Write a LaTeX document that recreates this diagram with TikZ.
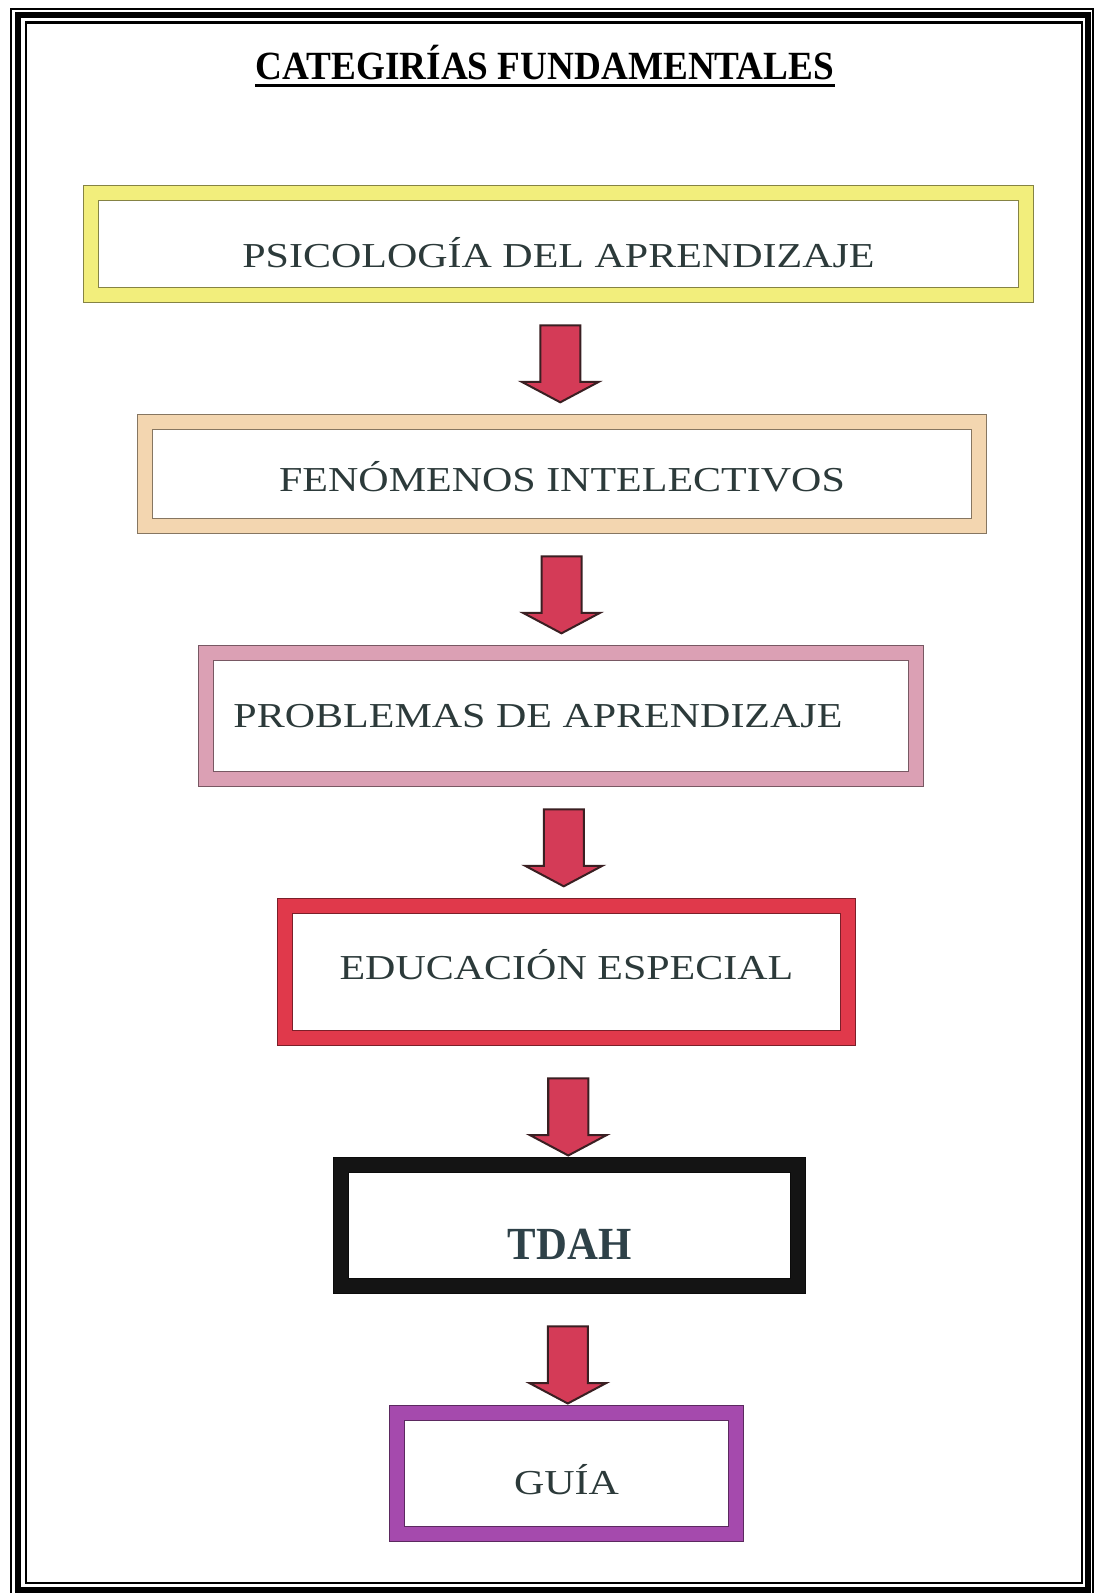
\documentclass[tikz,border=0pt]{standalone}
\usepackage{fontspec}
\usepackage{xcolor}
\usepackage{tikz}
\usetikzlibrary{shapes.arrows, positioning, calc}
\setmainfont{Liberation Serif}
\newfontfamily\cajafont[FakeStretch=1.2]{Liberation Serif}
\newfontfamily\titulofont[FakeStretch=0.93]{Liberation Serif}
\definecolor{amarillo}{HTML}{F2EE7C}
\definecolor{durazno}{HTML}{F3D6B0}
\definecolor{rosado}{HTML}{DBA0B4}
\definecolor{rojo}{HTML}{E0394B}
\definecolor{negro}{HTML}{141414}
\definecolor{morado}{HTML}{A54AAD}
\definecolor{flecharoja}{HTML}{D43B57}
\definecolor{flechaborde}{HTML}{3A1F22}
\definecolor{textogris}{HTML}{2C3A3A}
\definecolor{tdahgris}{HTML}{2E4148}

\begin{document}
\begin{tikzpicture}[
    x=0.5pt, y=-0.5pt,
    node distance=63.5pt,
    caja/.style={
        rectangle,
        draw=#1!55!black,
        double=#1,
        line width=0.6pt,
        double distance=7pt,
        fill=white,
        inner sep=0pt,
        outer sep=0pt,
        text depth=0pt,
        text height=11.6pt,
        text=textogris,
        font=\cajafont\fontsize{17.5}{20}\selectfont
    },
    flecha/.style={
        single arrow,
        rotate=-90,
        draw=flechaborde,
        fill=flecharoja,
        line width=1pt,
        inner xsep=0pt,
        inner ysep=9.5pt,
        minimum height=38.5pt,
        minimum width=1pt,
        single arrow head extend=9.25pt,
        single arrow head indent=0pt,
        single arrow tip angle=124
    }
]
\useasboundingbox (0,0) rectangle (1094,1593);

% marco
\draw[line width=1pt] (11,9) rectangle (1093,1596);
\draw[line width=3pt] (18,15.5) rectangle (1088,1590);
\draw[line width=1.2pt] (26,22.5) rectangle (1082,1583);

% titulo
\node[inner sep=0pt, text depth=0pt, font=\titulofont\bfseries\fontsize{20}{24}\selectfont] (titulo) at (545,62) {CATEGIRÍAS FUNDAMENTALES};
\draw[line width=1.5pt] ([yshift=-3pt]titulo.south west) -- ([yshift=-3pt]titulo.south east);

\node[caja=amarillo, minimum width=467.5pt, minimum height=51pt, text height=23.6pt] (psico) at (558.5,244) {PSICOLOGÍA DEL APRENDIZAJE};
\node[caja=durazno, minimum width=417pt, minimum height=52pt, text height=17.1pt, below=of psico, xshift=1.75pt] (feno) {FENÓMENOS INTELECTIVOS};
\node[caja=rosado, minimum width=355pt, minimum height=63pt, below=of feno, xshift=-0.5pt] (probl) {PROBLEMAS DE APRENDIZAJE\rule{23pt}{0pt}};
\node[caja=rojo, minimum width=281.5pt, minimum height=66pt, text height=7.6pt, below=of probl, xshift=2.75pt] (educ) {EDUCACIÓN ESPECIAL};
\node[caja=negro, minimum width=228.5pt, minimum height=60.5pt, text height=33.7pt, below=of educ, xshift=1.5pt, text=tdahgris, font=\titulofont\bfseries\fontsize{23}{26}\selectfont] (tdah) {TDAH};
\node[caja=morado, minimum width=169.5pt, minimum height=60.5pt, text height=21.1pt, below=of tdah, xshift=-1.5pt] (guia) {GUÍA};

% flechas
\node[flecha] (f1) at ($(psico.south)!0.5!(feno.north)$) {};
\node[flecha] (f2) at ($(feno.south)!0.5!(probl.north)$) {};
\node[flecha] (f3) at ($(probl.south)!0.5!(educ.north)$) {};
\node[flecha] (f4) at ($(educ.south)!0.58!(tdah.north)$) {};
\node[flecha] (f5) at ($(tdah.south)!0.58!(guia.north)$) {};

\end{tikzpicture}
\end{document}
